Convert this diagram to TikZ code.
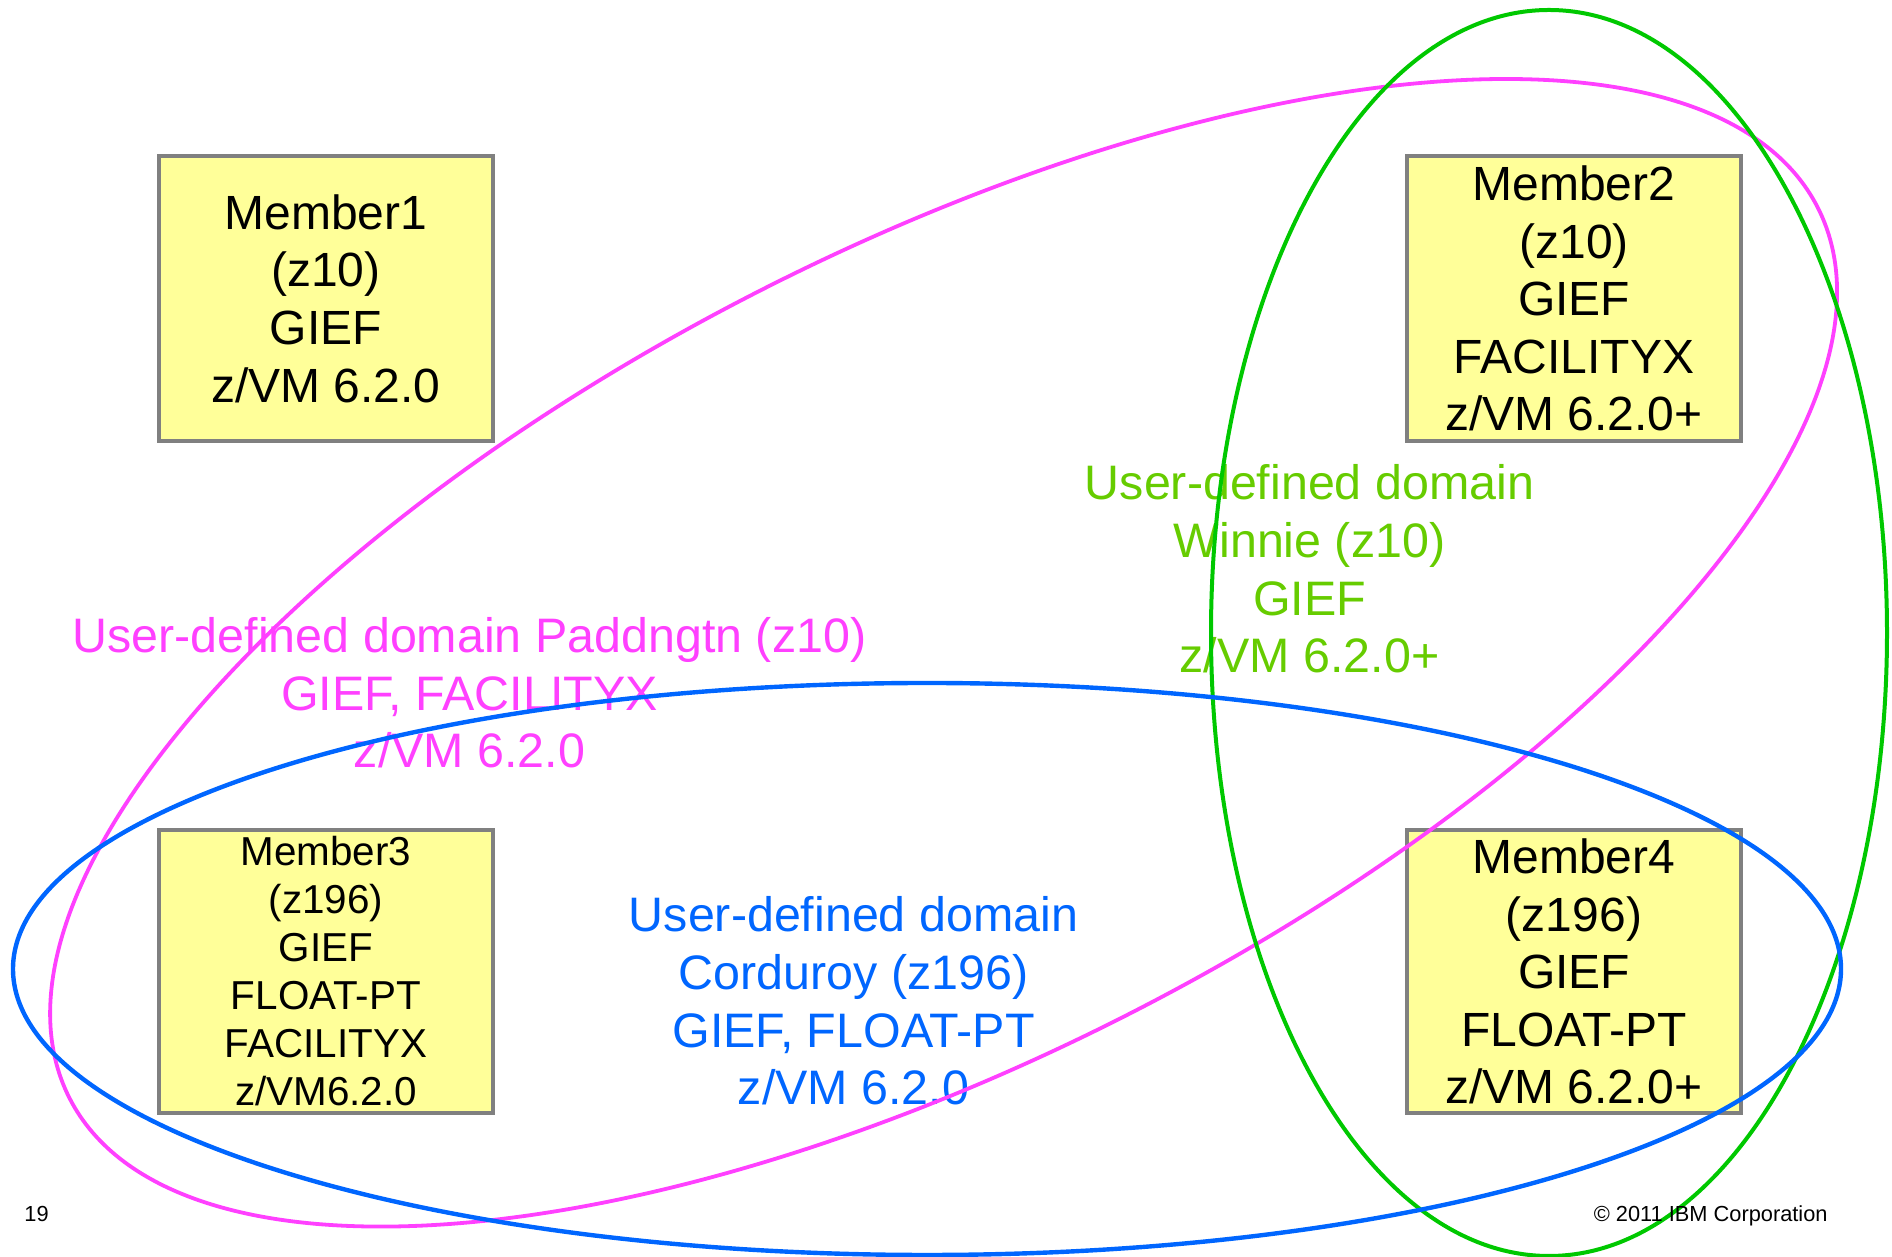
\documentclass[tikz,border=0pt]{standalone}
\usepackage{fontspec}
\setmainfont{Liberation Sans}
\definecolor{boxfill}{HTML}{FFFF99}
\definecolor{boxline}{HTML}{808080}
\definecolor{pmag}{HTML}{FF40FF}
\definecolor{pgreen}{HTML}{00C800}
\definecolor{pgreentext}{HTML}{66CC00}
\definecolor{pblue}{HTML}{0066FF}
\tikzset{
  member/.style={draw=boxline, line width=2pt, fill=boxfill, inner sep=0pt,
    minimum width=167pt, minimum height=142.5pt, align=center,
    font=\fontsize{24pt}{28.8pt}\selectfont},
  smallmember/.style={member, minimum height=141.5pt,
    font=\fontsize{20.2pt}{24pt}\selectfont},
  domlabel/.style={inner sep=0pt, align=center,
    font=\fontsize{24.2pt}{28.8pt}\selectfont},
  footer/.style={inner sep=0pt, font=\fontsize{10.9pt}{12pt}\selectfont},
  ring/.style={line width=1.9pt}
}
\begin{document}
\begin{tikzpicture}[x=0.5pt,y=0.5pt]
\useasboundingbox (0,0) rectangle (1892,1257);
% member boxes
\node[member] (m1) at (326,958.5) {Member1\\(z10)\\GIEF\\z/VM 6.2.0};
\node[member] (m2) at (1574,958.5) {Member2\\(z10)\\GIEF\\FACILITYX\\z/VM 6.2.0+};
\node[smallmember] (m3) at (326,285.5) {Member3\\(z196)\\GIEF\\FLOAT-PT\\FACILITYX\\z/VM6.2.0};
\node[member, minimum height=141.5pt] (m4) at (1574,285.5) {Member4\\(z196)\\GIEF\\FLOAT-PT\\z/VM 6.2.0+};
% domain labels
\node[domlabel, text=pmag] (lpad) at (469.5,564) {User-defined domain Paddngtn (z10)\\GIEF, FACILITYX\\z/VM 6.2.0};
\node[domlabel, text=pgreentext] (lwin) at (1309.5,688) {User-defined domain\\Winnie (z10)\\GIEF\\z/VM 6.2.0+};
\node[domlabel, text=pblue] (lcor) at (853.5,256) {User-defined domain\\Corduroy (z196)\\GIEF, FLOAT-PT\\z/VM 6.2.0};
% domain ellipses
\draw[ring, pmag, rotate around={27:(943.6,604.2)}] (943.6,604.2) ellipse [x radius=981, y radius=406];
\draw[ring, pgreen, line width=2pt] (1549,624) ellipse [x radius=338, y radius=623];
\draw[ring, pblue, line width=2.2pt] (927,288) ellipse [x radius=914, y radius=286];
% footer
\node[footer, anchor=base west] (pg) at (24,35) {19};
\node[footer, anchor=base east] (copy) at (1828,35) {© 2011 IBM Corporation};
\end{tikzpicture}
\end{document}
